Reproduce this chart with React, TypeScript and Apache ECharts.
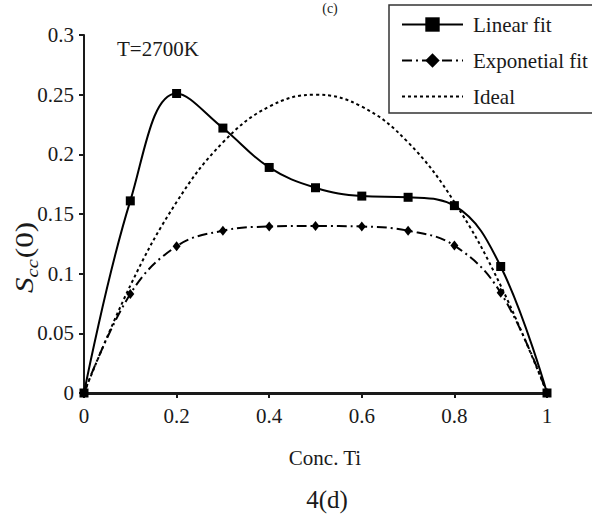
import React, { useEffect, useRef } from "react";
import * as echarts from "echarts";

const concTi = [0, 0.1, 0.2, 0.3, 0.4, 0.5, 0.6, 0.7, 0.8, 0.9, 1];
const linearFit = [0, 0.161, 0.251, 0.222, 0.189, 0.172, 0.165, 0.164, 0.157, 0.106, 0];
const exponentialFit = [0, 0.083, 0.123, 0.136, 0.1395, 0.14, 0.1395, 0.136, 0.1235, 0.084, 0];
const ideal = [0, 0.09, 0.16, 0.21, 0.24, 0.25, 0.24, 0.21, 0.16, 0.09, 0];
const xTicks = [0, 0.2, 0.4, 0.6, 0.8, 1];
const yTicks = [0, 0.05, 0.1, 0.15, 0.2, 0.25, 0.3];
const seriesNames = ["Linear fit", "Exponetial fit", "Ideal"];

const FONT = "Liberation Serif";
const INK = "#1a1a1a";

const pairs = (ys: number[]) => concTi.map((x, i) => [x, ys[i]]);

const txt = (text: string, size: number, extra: any = {}) => ({
  text,
  fontFamily: FONT,
  fontSize: size,
  fill: INK,
  ...extra,
});

export default function App() {
  const ref = useRef<HTMLDivElement>(null);
  useEffect(() => {
    if (!ref.current) return;
    const chart = echarts.init(ref.current, null, { renderer: "svg" });
    chart.setOption({
      animation: false,
      backgroundColor: "#fff",
      grid: { left: 84, right: 45, top: 35, bottom: 127 },
      xAxis: {
        type: "value",
        min: xTicks[0],
        max: xTicks[xTicks.length - 1],
        interval: 0.2,
        axisLine: { show: true, lineStyle: { color: INK, width: 3 } },
        axisTick: { show: true, inside: false, length: 5, lineStyle: { color: INK, width: 2 } },
        axisLabel: {
          color: INK,
          fontFamily: FONT,
          fontSize: 21,
          margin: 12,
          formatter: (v: number) => String(Math.round(v * 10) / 10),
        },
        splitLine: { show: false },
      },
      yAxis: {
        type: "value",
        min: yTicks[0],
        max: yTicks[yTicks.length - 1],
        interval: 0.05,
        axisLine: { show: true, lineStyle: { color: INK, width: 2 } },
        axisTick: { show: true, inside: false, length: 5, lineStyle: { color: INK, width: 2 } },
        axisLabel: {
          color: INK,
          fontFamily: FONT,
          fontSize: 21,
          margin: 10,
          formatter: (v: number) => String(Math.round(v * 100) / 100),
        },
        splitLine: { show: false },
      },
      legend: {
        data: [
          { name: seriesNames[0] },
          { name: seriesNames[1] },
          { name: seriesNames[2], itemStyle: { color: "rgba(0,0,0,0)", borderWidth: 0, opacity: 0 } },
        ],
        orient: "vertical",
        left: 401,
        top: 14,
        padding: 0,
        itemWidth: 61,
        itemHeight: 18,
        itemGap: 15,
        textStyle: { color: INK, fontFamily: FONT, fontSize: 21, lineHeight: 20, padding: [0, 0, 0, 5] },
        selectedMode: false,
      },
      series: [
        {
          name: seriesNames[0],
          type: "line",
          data: pairs(linearFit),
          smooth: 0.4,
          symbol: "rect",
          symbolSize: 9,
          itemStyle: { color: "#000" },
          lineStyle: { color: "#000", width: 2 },
          z: 4,
        },
        {
          name: seriesNames[1],
          type: "line",
          data: pairs(exponentialFit),
          smooth: 0.4,
          symbol: "diamond",
          symbolSize: [8, 10],
          itemStyle: { color: "#000" },
          lineStyle: { color: "#000", width: 2, type: [10, 4, 2, 4] },
          z: 3,
        },
        {
          name: seriesNames[2],
          type: "line",
          data: pairs(ideal),
          smooth: 0.4,
          symbol: "none",
          itemStyle: { color: "#000" },
          lineStyle: { color: "#000", width: 2, type: [3, 3] },
          z: 2,
        },
      ],
      graphic: [
        {
          type: "rect",
          shape: { x: 389, y: 5, width: 240, height: 108 },
          style: { fill: "#fff", stroke: "#333", lineWidth: 1.5 },
          z: -1,
        },
        {
          type: "text",
          x: 330,
          y: 1,
          style: txt("(c)", 14, { textAlign: "center", textVerticalAlign: "top" }),
        },
        {
          type: "text",
          x: 117,
          y: 49,
          style: txt("T=2700K", 21, { textAlign: "left", textVerticalAlign: "middle" }),
        },
        {
          type: "group",
          x: 24,
          y: 293,
          rotation: Math.PI / 2,
          scaleX: 1.2,
          children: [
            {
              type: "text",
              x: 0,
              y: 0,
              style: txt("S", 26, { fontStyle: "italic", textAlign: "left", textVerticalAlign: "middle" }),
            },
            {
              type: "text",
              x: 13,
              y: 8,
              style: txt("cc", 17, { fontStyle: "italic", textAlign: "left", textVerticalAlign: "middle" }),
            },
            {
              type: "text",
              x: 29,
              y: 0,
              style: txt("(0)", 26, { textAlign: "left", textVerticalAlign: "middle" }),
            },
          ],
        },
        {
          type: "text",
          x: 325,
          y: 458,
          style: txt("Conc. Ti", 21, { textAlign: "center", textVerticalAlign: "middle" }),
        },
        {
          type: "text",
          x: 327,
          y: 499,
          style: txt("4(d)", 25, { textAlign: "center", textVerticalAlign: "middle" }),
        },
      ],
    });
    return () => chart.dispose();
  }, []);
  return <div ref={ref} style={{ position: "fixed", left: 0, top: 0, width: 592, height: 520 }} />;
}
